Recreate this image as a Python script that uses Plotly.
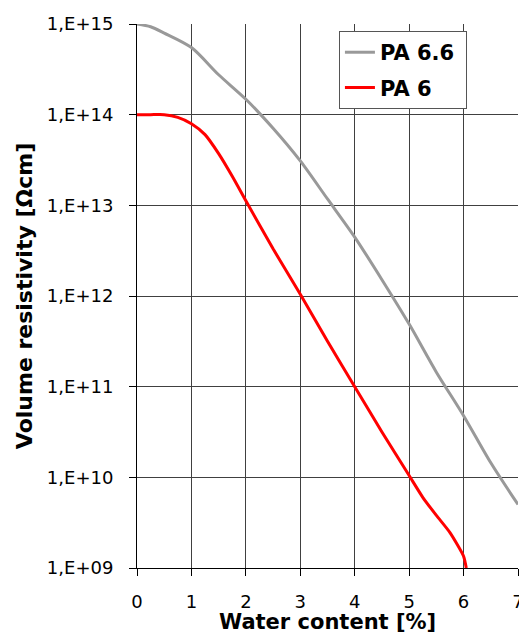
import plotly.graph_objects as go

# Water content [%]
pa66_x = [0, 0.25, 0.5, 1.0, 1.5, 2.0, 2.5, 3.0, 3.5, 4.0, 4.5, 5.0, 5.5, 6.0, 6.5, 7.0]
# log10 of volume resistivity
pa66_log = [15.0, 14.97, 14.90, 14.74, 14.44, 14.17, 13.85, 13.49, 13.07, 12.65, 12.18, 11.69, 11.16, 10.68, 10.16, 9.70]

pa6_x = [0, 0.25, 0.5, 0.75, 1.0, 1.25, 1.5, 1.75, 2.0, 2.5, 3.0, 3.5, 4.0, 4.5, 5.0, 5.25, 5.5, 5.75, 6.0, 6.05]
pa6_log = [14.0, 14.0, 14.0, 13.97, 13.90, 13.78, 13.57, 13.32, 13.05, 12.52, 12.02, 11.50, 11.0, 10.50, 10.02, 9.78, 9.58, 9.39, 9.13, 9.0]

y_tickvals = [1e9, 1e10, 1e11, 1e12, 1e13, 1e14, 1e15]
y_ticktext = ["1,E+09", "1,E+10", "1,E+11", "1,E+12", "1,E+13", "1,E+14", "1,E+15"]
x_tickvals = [0, 1, 2, 3, 4, 5, 6, 7]

FONT = "DejaVu Sans"

fig = go.Figure()
fig.add_trace(go.Scatter(x=pa66_x, y=[10 ** v for v in pa66_log], mode="lines",
                         name="<b>PA 6.6</b>\u00a0", legendgroup="a",
                         line=dict(color="#999999", width=3, shape="spline", smoothing=0.8)))
fig.add_trace(go.Scatter(x=pa6_x, y=[10 ** v for v in pa6_log], mode="lines",
                         name="<b>PA 6</b>", legendgroup="b",
                         line=dict(color="#ff0000", width=3, shape="spline", smoothing=0.6)))

fig.update_layout(
    width=519, height=644,
    margin=dict(l=137, r=1, t=24, b=76),
    paper_bgcolor="white", plot_bgcolor="white",
    font=dict(family=FONT, color="black", size=18),
    showlegend=True,
    legend=dict(x=0.530, y=0.987, xanchor="left", yanchor="top",
                bgcolor="white", bordercolor="#555555", borderwidth=1,
                font=dict(family=FONT, size=21, color="black"),
                tracegroupgap=5),
    xaxis=dict(range=[0, 7], tickvals=x_tickvals, ticks="outside", ticklen=7,
               tickcolor="black", showline=True, linecolor="black", linewidth=1,
               showgrid=True, gridcolor="#404040", gridwidth=1, zeroline=False,
               tickfont=dict(size=18, family=FONT), ticklabelstandoff=10,
               ticklabeloverflow="allow", automargin=False),
    yaxis=dict(type="log", range=[9, 15], tickvals=y_tickvals, ticktext=y_ticktext,
               ticks="outside", ticklen=7, tickcolor="black", showline=True,
               linecolor="black", linewidth=1, showgrid=True, gridcolor="#404040",
               gridwidth=1, zeroline=False, ticklabelstandoff=12, automargin=False,
               tickfont=dict(size=18, family=FONT),
               title=dict(text="<b>Volume resistivity [Ωcm]</b>", font=dict(size=22, family=FONT), standoff=8)),
    annotations=[dict(text="<b>Water content [%]</b>", xref="paper", yref="paper",
                      x=0.5, y=-0.099, xanchor="center", yanchor="middle",
                      showarrow=False, font=dict(size=21, family=FONT, color="black"))],
)

fig.write_html("out.html")
